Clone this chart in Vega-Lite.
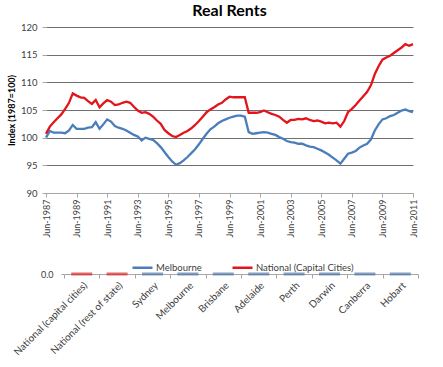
{
  "$schema": "https://vega.github.io/schema/vega-lite/v6.json",
  "background": "white",
  "padding": {"left": 7, "top": 3, "right": 5, "bottom": 5},
  "bounds": "flush",
  "spacing": 75,
  "resolve": {"scale": {"color": "independent"}, "legend": {"color": "independent"}},
  "config": {"view": {"stroke": null}, "font": "Lato"},
  "vconcat": [
    {
      "width": 367,
      "height": 166,
      "title": {"text": "Real Rents", "fontSize": 16, "fontWeight": "bold", "font": "Lato", "color": "#000000", "offset": 3, "anchor": "middle"},
      "data": {"values": [
        {"d":"1987-06-01","Melbourne":100.0,"National":100.7},
        {"d":"1987-09-01","Melbourne":101.2,"National":102.0},
        {"d":"1987-12-01","Melbourne":100.9,"National":102.8},
        {"d":"1988-03-01","Melbourne":100.9,"National":103.5},
        {"d":"1988-06-01","Melbourne":100.9,"National":104.2},
        {"d":"1988-09-01","Melbourne":100.8,"National":105.2},
        {"d":"1988-12-01","Melbourne":101.3,"National":106.3},
        {"d":"1989-03-01","Melbourne":102.3,"National":108.0},
        {"d":"1989-06-01","Melbourne":101.6,"National":107.6},
        {"d":"1989-09-01","Melbourne":101.6,"National":107.3},
        {"d":"1989-12-01","Melbourne":101.6,"National":107.2},
        {"d":"1990-03-01","Melbourne":101.8,"National":106.6},
        {"d":"1990-06-01","Melbourne":101.9,"National":106.1},
        {"d":"1990-09-01","Melbourne":102.8,"National":106.8},
        {"d":"1990-12-01","Melbourne":101.6,"National":105.5},
        {"d":"1991-03-01","Melbourne":102.4,"National":106.2},
        {"d":"1991-06-01","Melbourne":103.3,"National":106.8},
        {"d":"1991-09-01","Melbourne":102.9,"National":106.5},
        {"d":"1991-12-01","Melbourne":102.1,"National":105.9},
        {"d":"1992-03-01","Melbourne":101.8,"National":106.0},
        {"d":"1992-06-01","Melbourne":101.6,"National":106.3},
        {"d":"1992-09-01","Melbourne":101.3,"National":106.5},
        {"d":"1992-12-01","Melbourne":100.9,"National":106.3},
        {"d":"1993-03-01","Melbourne":100.5,"National":105.6},
        {"d":"1993-06-01","Melbourne":100.2,"National":104.9},
        {"d":"1993-09-01","Melbourne":99.5,"National":104.5},
        {"d":"1993-12-01","Melbourne":100.0,"National":104.6},
        {"d":"1994-03-01","Melbourne":99.8,"National":104.3},
        {"d":"1994-06-01","Melbourne":99.6,"National":103.8},
        {"d":"1994-09-01","Melbourne":99.0,"National":103.1},
        {"d":"1994-12-01","Melbourne":98.3,"National":102.5},
        {"d":"1995-03-01","Melbourne":97.4,"National":101.4},
        {"d":"1995-06-01","Melbourne":96.5,"National":100.8},
        {"d":"1995-09-01","Melbourne":95.7,"National":100.3},
        {"d":"1995-12-01","Melbourne":95.1,"National":100.1},
        {"d":"1996-03-01","Melbourne":95.4,"National":100.5},
        {"d":"1996-06-01","Melbourne":95.9,"National":100.9},
        {"d":"1996-09-01","Melbourne":96.5,"National":101.2},
        {"d":"1996-12-01","Melbourne":97.2,"National":101.7},
        {"d":"1997-03-01","Melbourne":97.9,"National":102.3},
        {"d":"1997-06-01","Melbourne":98.8,"National":103.0},
        {"d":"1997-09-01","Melbourne":99.8,"National":103.8},
        {"d":"1997-12-01","Melbourne":100.7,"National":104.6},
        {"d":"1998-03-01","Melbourne":101.5,"National":105.1},
        {"d":"1998-06-01","Melbourne":102.0,"National":105.5},
        {"d":"1998-09-01","Melbourne":102.6,"National":106.0},
        {"d":"1998-12-01","Melbourne":103.0,"National":106.3},
        {"d":"1999-03-01","Melbourne":103.3,"National":106.9},
        {"d":"1999-06-01","Melbourne":103.6,"National":107.4},
        {"d":"1999-09-01","Melbourne":103.8,"National":107.3},
        {"d":"1999-12-01","Melbourne":104.0,"National":107.3},
        {"d":"2000-03-01","Melbourne":104.0,"National":107.3},
        {"d":"2000-06-01","Melbourne":103.8,"National":107.3},
        {"d":"2000-09-01","Melbourne":101.0,"National":104.5},
        {"d":"2000-12-01","Melbourne":100.7,"National":104.5},
        {"d":"2001-03-01","Melbourne":100.8,"National":104.5},
        {"d":"2001-06-01","Melbourne":100.9,"National":104.6},
        {"d":"2001-09-01","Melbourne":101.0,"National":104.9},
        {"d":"2001-12-01","Melbourne":100.9,"National":104.6},
        {"d":"2002-03-01","Melbourne":100.7,"National":104.3},
        {"d":"2002-06-01","Melbourne":100.5,"National":104.1},
        {"d":"2002-09-01","Melbourne":100.1,"National":103.8},
        {"d":"2002-12-01","Melbourne":99.8,"National":103.2},
        {"d":"2003-03-01","Melbourne":99.4,"National":102.7},
        {"d":"2003-06-01","Melbourne":99.2,"National":103.2},
        {"d":"2003-09-01","Melbourne":99.1,"National":103.2},
        {"d":"2003-12-01","Melbourne":98.9,"National":103.4},
        {"d":"2004-03-01","Melbourne":98.9,"National":103.3},
        {"d":"2004-06-01","Melbourne":98.6,"National":103.5},
        {"d":"2004-09-01","Melbourne":98.4,"National":103.2},
        {"d":"2004-12-01","Melbourne":98.3,"National":103.0},
        {"d":"2005-03-01","Melbourne":98.0,"National":103.1},
        {"d":"2005-06-01","Melbourne":97.7,"National":102.9},
        {"d":"2005-09-01","Melbourne":97.3,"National":102.6},
        {"d":"2005-12-01","Melbourne":96.9,"National":102.7},
        {"d":"2006-03-01","Melbourne":96.4,"National":102.6},
        {"d":"2006-06-01","Melbourne":95.9,"National":102.7},
        {"d":"2006-09-01","Melbourne":95.3,"National":102.0},
        {"d":"2006-12-01","Melbourne":96.2,"National":103.0},
        {"d":"2007-03-01","Melbourne":97.1,"National":104.6},
        {"d":"2007-06-01","Melbourne":97.3,"National":105.2},
        {"d":"2007-09-01","Melbourne":97.6,"National":105.9},
        {"d":"2007-12-01","Melbourne":98.2,"National":106.7},
        {"d":"2008-03-01","Melbourne":98.6,"National":107.5},
        {"d":"2008-06-01","Melbourne":98.9,"National":108.3},
        {"d":"2008-09-01","Melbourne":99.7,"National":109.5},
        {"d":"2008-12-01","Melbourne":101.3,"National":111.5},
        {"d":"2009-03-01","Melbourne":102.4,"National":112.9},
        {"d":"2009-06-01","Melbourne":103.3,"National":114.1},
        {"d":"2009-09-01","Melbourne":103.5,"National":114.5},
        {"d":"2009-12-01","Melbourne":103.9,"National":114.8},
        {"d":"2010-03-01","Melbourne":104.1,"National":115.3},
        {"d":"2010-06-01","Melbourne":104.5,"National":115.8},
        {"d":"2010-09-01","Melbourne":104.9,"National":116.3},
        {"d":"2010-12-01","Melbourne":105.1,"National":116.9},
        {"d":"2011-03-01","Melbourne":104.8,"National":116.6},
        {"d":"2011-06-01","Melbourne":104.6,"National":116.9}
      ]},
      "transform": [{"fold": ["Melbourne", "National"], "as": ["series", "value"]}],
      "mark": {"type": "line", "strokeWidth": 2.3},
      "encoding": {
        "x": {
          "field": "d", "type": "temporal",
          "scale": {"type": "utc", "nice": false, "domain": [{"year": 1987, "month": 6, "date": 1, "utc": true}, {"year": 2011, "month": 6, "date": 1, "utc": true}]},
          "axis": {
            "title": null, "format": "%b-%Y", "labelAngle": -90, "labelFontSize": 9, "labelColor": "#404040",
            "grid": false, "domainColor": "#a6a6a6", "tickColor": "#a6a6a6", "tickSize": 4, "labelPadding": 2,
            "values": [
              {"year": 1987, "month": 6, "date": 1, "utc": true},
              {"year": 1989, "month": 6, "date": 1, "utc": true},
              {"year": 1991, "month": 6, "date": 1, "utc": true},
              {"year": 1993, "month": 6, "date": 1, "utc": true},
              {"year": 1995, "month": 6, "date": 1, "utc": true},
              {"year": 1997, "month": 6, "date": 1, "utc": true},
              {"year": 1999, "month": 6, "date": 1, "utc": true},
              {"year": 2001, "month": 6, "date": 1, "utc": true},
              {"year": 2003, "month": 6, "date": 1, "utc": true},
              {"year": 2005, "month": 6, "date": 1, "utc": true},
              {"year": 2007, "month": 6, "date": 1, "utc": true},
              {"year": 2009, "month": 6, "date": 1, "utc": true},
              {"year": 2011, "month": 6, "date": 1, "utc": true}
            ]
          }
        },
        "y": {
          "field": "value", "type": "quantitative",
          "scale": {"domain": [90, 120], "nice": false, "zero": false},
          "axis": {
            "values": [90, 95, 100, 105, 110, 115, 120], "title": "Index (1987=100)", "titleFontSize": 9,
            "titleFontWeight": "bold", "titleColor": "#000000", "titlePadding": 4,
            "labelFontSize": 9.5, "labelColor": "#404040", "labelPadding": 5, "domain": false,
            "tickSize": 4, "tickColor": "#a6a6a6", "gridColor": "#707070", "gridWidth": 1
          }
        },
        "color": {
          "field": "series", "type": "nominal",
          "scale": {"domain": ["Melbourne", "National"], "range": ["#4a7ebb", "#e3141b"]},
          "legend": {
            "title": null, "orient": "none", "legendX": 85, "legendY": 229, "direction": "horizontal",
            "symbolType": "stroke", "symbolStrokeWidth": 2.5, "symbolSize": 400, "labelFontSize": 9.5,
            "labelColor": "#404040", "columnPadding": 25, "labelOffset": 2,
            "labelExpr": "datum.label == 'National' ? 'National (Capital Cities)' : datum.label"
          }
        }
      }
    },
    {
      "width": 372,
      "height": 6,
      "data": {"values": [
        {"region": "National (capital cities)", "v": 0, "t": "N"},
        {"region": "National (rest of state)", "v": 0, "t": "N"},
        {"region": "Sydney", "v": 0, "t": "C"},
        {"region": "Melbourne", "v": 0, "t": "C"},
        {"region": "Brisbane", "v": 0, "t": "C"},
        {"region": "Adelaide", "v": 0, "t": "C"},
        {"region": "Perth", "v": 0, "t": "C"},
        {"region": "Darwin", "v": 0, "t": "C"},
        {"region": "Canberra", "v": 0, "t": "C"},
        {"region": "Hobart", "v": 0, "t": "C"}
      ]},
      "mark": {"type": "tick", "thickness": 3, "size": 21, "orient": "horizontal"},
      "encoding": {
        "x": {
          "field": "region", "type": "nominal", "sort": null,
          "scale": {"range": [18, 372], "paddingInner": 0, "paddingOuter": 0},
          "axis": {
            "title": null, "labelAngle": -45, "labelFontSize": 10, "labelColor": "#404040", "tickBand": "extent",
            "domainColor": "#a6a6a6", "tickColor": "#a6a6a6", "tickSize": 4
          }
        },
        "y": {
          "field": "v", "type": "quantitative", "scale": {"domain": [0, 1]},
          "axis": {"values": [0], "format": ".1f", "title": null, "grid": false, "domain": false, "tickSize": 3,
                   "tickColor": "#a6a6a6", "labelFontSize": 9, "labelColor": "#404040", "offset": -18, "labelPadding": 8}
        },
        "color": {"field": "t", "type": "nominal", "scale": {"domain": ["N", "C"], "range": ["#d9262b", "#4f76a8"]}, "legend": null}
      }
    }
  ]
}
